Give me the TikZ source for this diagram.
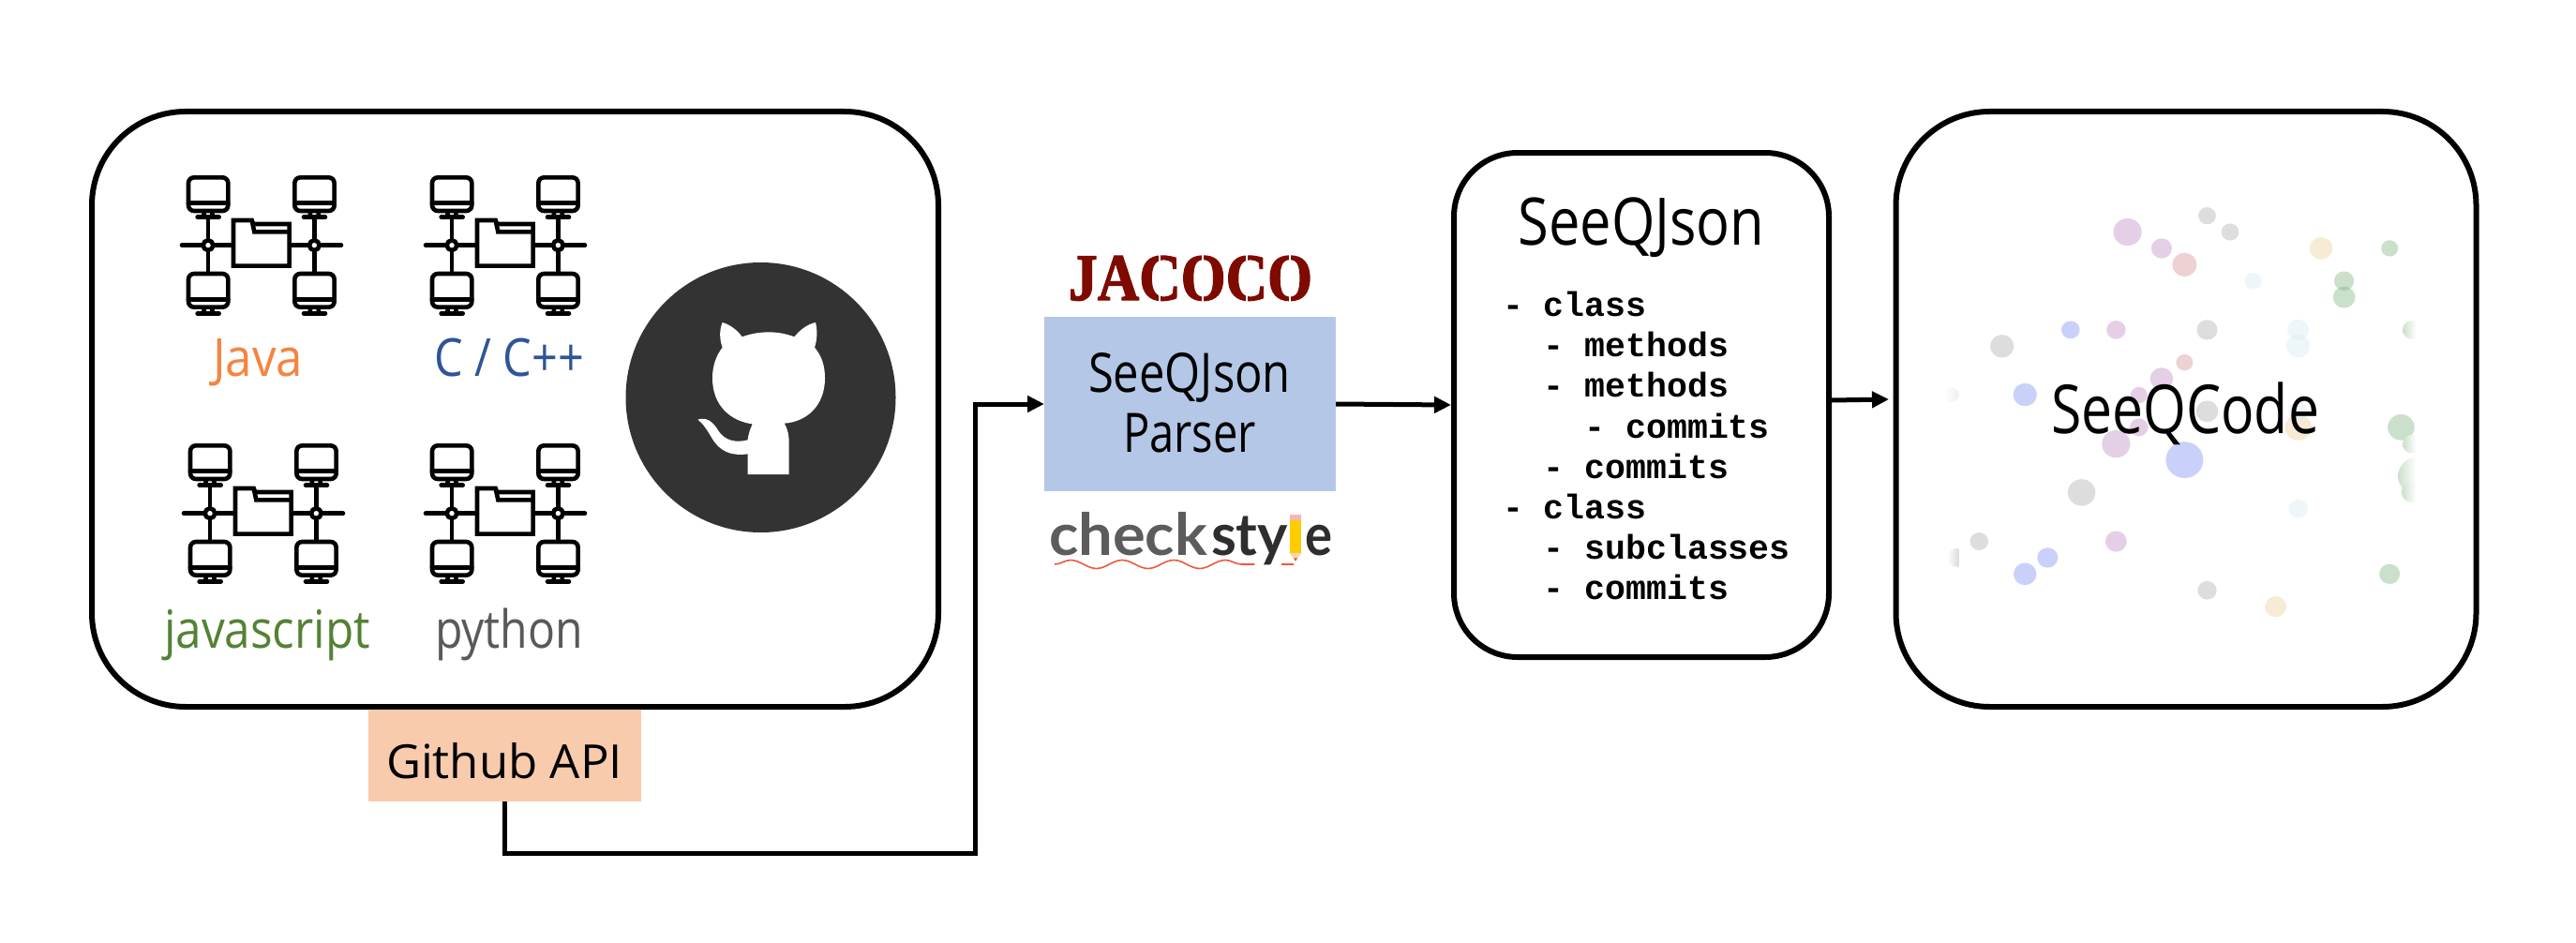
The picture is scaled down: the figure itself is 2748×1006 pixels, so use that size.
\documentclass[tikz,border=0pt]{standalone}
\usepackage{fontspec}
\usepackage{graphicx}
\usetikzlibrary{arrows.meta,decorations.pathmorphing}
\setmainfont{Open Sans}
\newfontfamily\monof{Liberation Mono}
\newfontfamily\serifb[BoldFeatures={FakeBold=2}]{Liberation Serif}
\newfontfamily\latof{Lato}
\newcommand\fitw[2]{\resizebox{#1pt}{\height}{#2}}
\definecolor{cJava}{HTML}{F5843F}
\definecolor{cCpp}{HTML}{2F5597}
\definecolor{cJs}{HTML}{548235}
\definecolor{cPy}{HTML}{595959}
\definecolor{cApi}{HTML}{F8CBAD}
\definecolor{cParser}{HTML}{B4C7E7}
\definecolor{cJac}{HTML}{7F0A00}
\definecolor{cChk}{HTML}{5C5C5C}
\definecolor{cSty}{HTML}{2E2E2E}
\definecolor{dPur}{RGB}{190,135,197}
\definecolor{dGry}{RGB}{172,172,172}
\definecolor{dPnk}{RGB}{210,142,147}
\definecolor{dOrg}{RGB}{235,205,152}
\definecolor{dGrn}{RGB}{125,178,125}
\definecolor{dLbl}{RGB}{212,235,242}
\definecolor{dBlu}{RGB}{120,140,247}
\definecolor{fGrn}{RGB}{203,224,203}
\definecolor{pYel}{HTML}{FFCC00}
\definecolor{pEra}{HTML}{F4B6B8}
\definecolor{pWod}{HTML}{F2D9B0}
\definecolor{pTip}{HTML}{E8503A}
\definecolor{pWav}{HTML}{F0583A}
\tikzset{
  bigbox/.style={draw=black,line width=6pt,rounded corners=#1,fill=white,inner sep=0pt},
  flat/.style={inner sep=0pt,outer sep=0pt,align=center},
  txt/.style={inner sep=0pt,outer sep=0pt,anchor=base},
  conn/.style={draw=black,line width=5pt,-{Triangle[length=18pt,width=17pt]}},
  ico/.style={line width=4.6pt,draw=black,line cap=round,line join=round},
  dot/.style={fill=#1,fill opacity=0.4}
}
\newcommand\netw[2]{%
\begin{scope}[shift={(#1,#2)},scale=1/3]
  \foreach \mx/\my in {0/0,340/0,0/308,340/308}{
    \draw[ico,rounded corners=6pt] (63+\mx,58+\my) rectangle (190+\mx,165+\my);
    \draw[ico] (63+\mx,140+\my) -- (190+\mx,140+\my);
    \draw[ico] (92+\mx,185+\my) -- (161+\mx,185+\my);
    \draw[ico] (114+\mx,167+\my) -- (111+\mx,185+\my) (138+\mx,167+\my) -- (141+\mx,185+\my);
  }
  \foreach \mx in {0,340}{
    \draw[ico] (126+\mx,188) -- (126+\mx,362);
  }
  \draw[ico] (42,275) -- (207,275);
  \draw[ico] (388,275) -- (552,275);
  \foreach \mx in {0,340}{
    \draw[ico,fill=white] (126+\mx,275) circle[radius=16];
  }
  \draw[ico,line cap=butt,line join=miter,fill=white] (207,195) -- (266,195) -- (270,207) -- (386,207) -- (386,341) -- (207,341) -- cycle;
  \draw[ico,line cap=butt,line join=miter] (266,195) -- (274,232) -- (386,232);
\end{scope}}
\newcommand\fadeR[4]{%
  \begin{scope}
    \clip (#1,#2) circle[radius=#3];
    \shade[left color=#4,right color=white] ({#1-#3},{#2-#3}) rectangle (1390,{#2+#3});
  \end{scope}}
\newcommand\fadeL[4]{%
  \begin{scope}
    \clip (#1,#2) circle[radius=#3];
    \shade[right color=#4,left color=white] ({#1-#3},{#2-#3}) rectangle (195,{#2+#3});
  \end{scope}}
\begin{document}
\begin{tikzpicture}[x=1pt,y=-1pt]
\useasboundingbox (0,0) rectangle (2748,1006);
\fill[white] (0,0) rectangle (2748,1006);

% main boxes
\node[bigbox=100pt,minimum width=903pt,minimum height=635pt] (repo) at (549.5,436.5) {};
\node[bigbox=68pt,minimum width=400pt,minimum height=538pt] (json) at (1751,432) {};
\node[bigbox=100pt,minimum width=619pt,minimum height=635pt] (code) at (2332,436.5) {};
\node[flat,fill=cParser,minimum width=311pt,minimum height=186pt] (parser) at (1269.5,431) {};
\node[flat,fill=cApi,minimum width=291pt,minimum height=98pt] (api) at (538,806) {};

% network icons
\netw{180}{170}
\netw{440}{170}
\netw{182}{456}
\netw{440}{456}

% language labels
\node[txt,text=cJava,font=\fontsize{56}{60}\selectfont] (ljava) at (275,401) {\fitw{96}{Java}};
\node[txt,text=cCpp,font=\fontsize{56}{60}\selectfont] (lcpp) at (543,401) {\fitw{160}{C / C++}};
\node[txt,text=cJs,font=\fontsize{56}{60}\selectfont] (ljs) at (285,691) {\fitw{220}{javascript}};
\node[txt,text=cPy,font=\fontsize{56}{60}\selectfont] (lpy) at (543,691) {\fitw{158}{python}};

% github mark
\node[circle,fill=black!80,minimum size=288pt,inner sep=0pt] (gh) at (811.5,424) {};
\begin{scope}[shift={(650,300)},scale=1/3]
  \fill[white] (362,132) .. controls (390,140) and (412,160) .. (425,178)
    .. controls (480,158) and (540,158) .. (592,178)
    .. controls (608,158) and (632,138) .. (660,132)
    .. controls (666,155) and (666,185) .. (657,212)
    .. controls (680,240) and (690,270) .. (690,310)
    .. controls (690,400) and (630,450) .. (560,455)
    .. controls (572,475) and (575,495) .. (575,515)
    -- (575,618) -- (443,618) -- (443,553)
    .. controls (390,560) and (355,545) .. (330,505)
    .. controls (312,475) and (300,455) .. (283,443)
    .. controls (315,432) and (335,455) .. (350,480)
    .. controls (370,510) and (405,518) .. (443,508)
    .. controls (445,490) and (450,475) .. (458,457)
    .. controls (390,448) and (330,400) .. (330,310)
    .. controls (330,270) and (342,238) .. (362,212)
    .. controls (352,185) and (352,155) .. (362,132) -- cycle;
\end{scope}

% api and parser labels
\node[txt,font=\fontsize{50}{52}\selectfont] (apit) at (538,830) {\fitw{252}{Github API}};
\node[txt,font=\fontsize{58}{62}\selectfont] (pt1) at (1269,418) {\fitw{216}{SeeQJson}};
\node[txt,font=\fontsize{58}{62}\selectfont] (pt2) at (1269,482) {\fitw{142}{Parser}};

% JaCoCo
\node[txt,text=cJac,font=\serifb\bfseries\fontsize{70}{70}\selectfont] (jac) at (1270,320) {\resizebox{260pt}{47pt}{JACOCO}};
\foreach \cx in {1237,1283,1330,1376}{
  \fill[white] (\cx-1.2,268) rectangle (\cx+1.2,280);
  \fill[white] (\cx-1.2,311) rectangle (\cx+1.2,323);
}

% checkstyle
\node[txt,anchor=base west,text=cChk,font=\latof\bfseries\fontsize{62}{64}\selectfont] (chk1) at (1119,592) {\fitw{169}{check}};
\node[txt,anchor=base west,text=cSty,font=\latof\bfseries\fontsize{62}{64}\selectfont] (chk2) at (1292,592) {\fitw{82}{sty}};
\node[txt,anchor=base west,text=cSty,font=\latof\bfseries\fontsize{62}{64}\selectfont] (chk3) at (1392,592) {\fitw{29}{e}};
\begin{scope}[shift={(1080,250)},scale=1/3]
  \fill[pYel] (887,915) rectangle (925,1020);
  \fill[pEra] (887,897) rectangle (925,915);
  \fill[pWod] (887,1020) -- (925,1020) -- (906,1046) -- cycle;
  \fill[pTip] (900,1036) -- (912,1036) -- (906,1046) -- cycle;
  \draw[pWav,line width=1.6pt,decorate,decoration={snake,amplitude=4.5,segment length=55}] (135,1056) -- (775,1056);
  \draw[pWav,line width=1.6pt,decorate,decoration={snake,amplitude=4.5,segment length=55}] (862,1056) -- (900,1056);
\end{scope}

% SeeQJson content
\node[txt,font=\fontsize{70}{74}\selectfont] (jt) at (1751,261) {\fitw{263}{SeeQJson}};
\node[inner sep=0pt,outer sep=0pt,anchor=north west,align=left,font=\monof\bfseries\fontsize{36.5}{43.2}\selectfont] (jl) at (1603,311) {%
- class\\
\hphantom{xx}- methods\\
\hphantom{xx}- methods\\
\hphantom{xxxx}- commits\\
\hphantom{xx}- commits\\
- class\\
\hphantom{xx}- subclasses\\
\hphantom{xx}- commits};

% SeeQCode dots
\begin{scope}[shift={(2010,110)},xscale=1/2.45,yscale=1/2.53]
  \foreach \cc/\px/\py/\pr in {
    dPur/636/348/37,dPur/725/392/27,dPur/606/612/25,dPur/725/744/30,dPur/666/788/22,dPur/666/875/24,dPur/606/920/37,dPur/606/1183/28,
    dGry/844/304/23,dGry/904/348/23,dGry/844/612/27,dGry/308/656/31,dGry/844/832/29,dGry/516/1051/36,dGry/248/1183/24,dGry/844/1315/25,
    dPnk/785/436/32,dPnk/785/700/22,
    dOrg/1142/392/30,dOrg/1082/875/35,dOrg/1023/1359/28,
    dGrn/1321/392/22,dGrn/1202/480/26,dGrn/1202/524/29,dGrn/1351/875/35,dGrn/1321/1271/27,
    dLbl/964/480/23,dLbl/1082/612/28,dLbl/1082/656/31,dLbl/1082/832/25,dLbl/1082/1095/25,
    dBlu/487/612/24,dBlu/368/787/31,dBlu/785/963/49,dBlu/427/1227/27,dBlu/368/1271/30}{
    \fill[dot=\cc] (\px,\py) circle[radius=\pr];
  }
  \fadeR{1380}{612}{25}{fGrn}
  \fadeR{1395}{1007}{52}{fGrn}
  \fadeR{1380}{920}{25}{fGrn}
  \fadeR{1380}{1050}{28}{fGrn}
  \fadeL{175}{787}{20}{black!6}
  \fadeL{190}{1227}{25}{black!14}
\end{scope}
\node[txt,font=\fontsize{72}{74}\selectfont] (ct) at (2331,462) {\fitw{286}{SeeQCode}};

% connectors
\coordinate (bendA) at (538,910);
\coordinate (bendB) at (1040,910);
\coordinate (bendC) at (1040,431);
\coordinate (a3s) at (1954,427);
\coordinate (a3e) at (2015,426);
\draw[conn,line join=miter] (api.south) -- (bendA) -- (bendB) -- (bendC) -- (parser.west);
\draw[conn] (parser.east) -- (json.west);
\draw[conn] (a3s) -- (a3e);
\end{tikzpicture}
\end{document}
